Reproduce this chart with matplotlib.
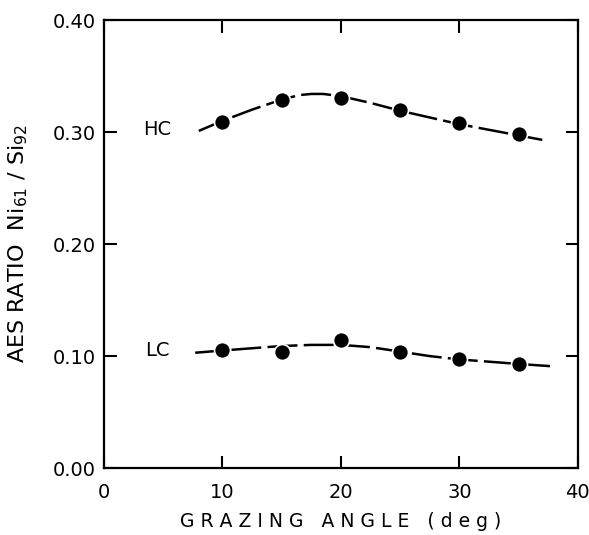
import numpy as np
import matplotlib.pyplot as plt

# measured points
angle = [10, 15, 20, 25, 30, 35]
hc = [0.309, 0.329, 0.330, 0.320, 0.308, 0.298]
lc = [0.105, 0.104, 0.114, 0.104, 0.097, 0.093]

# dashed guide curves
hc_curve_x = [8, 10, 12.5, 15, 16.5, 17.5, 18.5, 20, 22.5, 25, 27.5, 30, 32.5, 35, 37]
hc_curve_y = [0.301, 0.310, 0.320, 0.329, 0.333, 0.334, 0.334, 0.332, 0.326, 0.319, 0.313, 0.307, 0.302, 0.297, 0.293]
lc_curve_x = [7.7, 10, 12.5, 15, 17.5, 20, 22.5, 25, 27.5, 30, 32.5, 35, 37.7]
lc_curve_y = [0.103, 0.105, 0.107, 0.109, 0.110, 0.110, 0.108, 0.104, 0.100, 0.097, 0.095, 0.093, 0.091]

xticks = [0, 10, 20, 30, 40]
yticks = [0.0, 0.1, 0.2, 0.3, 0.4]

plt.rcParams['font.family'] = ['DejaVu Sans']

fig = plt.figure(figsize=(5.89, 5.35), dpi=100)
ax = fig.add_axes([0.1766, 0.125, 0.8044, 0.8376])

for cx, cy in [(hc_curve_x, hc_curve_y), (lc_curve_x, lc_curve_y)]:
    ax.plot(cx, cy, color='black', lw=1.8, dashes=(12, 2.5), zorder=2)

ax.plot(angle, hc, 'o', color='black', ms=11.5, mec='white', mew=1.2, zorder=3)
ax.plot(angle, lc, 'o', color='black', ms=11.5, mec='white', mew=1.2, zorder=3)

ax.text(4.5, 0.302, 'HC', fontsize=14, ha='center', va='center')
ax.text(4.5, 0.105, 'LC', fontsize=14, ha='center', va='center')

ax.set_xlim(0, 40)
ax.set_ylim(0, 0.4)
ax.set_xticks(xticks)
ax.set_xticklabels(['0', '10', '20', '30', '40'], fontsize=14)
ax.set_yticks(yticks)
ax.set_yticklabels(['0.00', '0.10', '0.20', '0.30', '0.40'], fontsize=14)
ax.tick_params(direction='in', length=9, width=1.5, top=True, right=True)
ax.tick_params(axis='x', pad=11)
ax.tick_params(axis='y', pad=6)

for s in ax.spines.values():
    s.set_linewidth(1.6)

ax.set_xlabel('G R A Z I N G   A N G L E   ( d e g )', fontsize=13.5, labelpad=7)
ax.set_ylabel(r'AES RATIO  Ni$_{61}$ / Si$_{92}$', fontsize=16, labelpad=16)

plt.savefig('out.png', dpi=100)
